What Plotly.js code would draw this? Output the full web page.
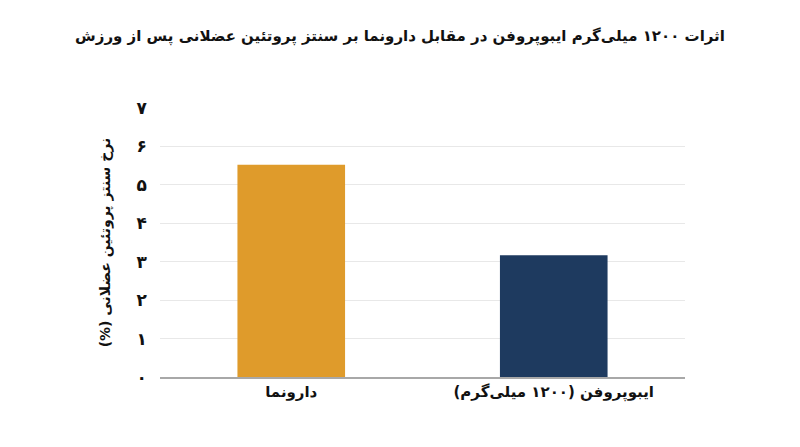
<!DOCTYPE html>
<html>
<head>
<meta charset="utf-8">
<script src="https://cdn.plot.ly/plotly-3.0.1.min.js"></script>
<style>
  html, body { margin: 0; padding: 0; background: #fff; }
  #chart { width: 800px; height: 447px; }
</style>
</head>
<body>
<div id="chart"></div>
<script>
const categories = ['دارونما', 'ایبوپروفن (۱۲۰۰ میلی‌گرم)'];
const synthesisRates = [5.52, 3.17];
const barColors = ['#DF9B2B', '#1E3A5F'];
const tickValues = [0, 1, 2, 3, 4, 5, 6, 7];
const tickLabels = ['۰', '۱', '۲', '۳', '۴', '۵', '۶', '۷'];

const chartTitle = 'اثرات ۱۲۰۰ میلی‌گرم ایبوپروفن در مقابل دارونما بر سنتز پروتئین عضلانی پس از ورزش';
const yTitle = 'نرخ سنتز پروتئین عضلانی (%)';

// keep persian strings right-to-left inside svg text
const RLM = '\u200F';
function rtl(s) {
    return RLM + s + RLM;
}

document.addEventListener('DOMContentLoaded', function() {
    drawChart();
});

function drawChart() {
    const data = [{
        type: 'bar',
        x: categories.map(rtl),
        y: synthesisRates,
        marker: { color: barColors },
        hoverinfo: 'x+y'
    }];

    const layout = {
        width: 800,
        height: 447,
        font: { family: 'DejaVu Sans, sans-serif', color: '#111' },
        title: {
            text: '<b>' + rtl(chartTitle) + '</b>',
            font: { size: 15, color: '#111' },
            x: 0.5,
            xanchor: 'center',
            y: 0.92,
            yanchor: 'middle'
        },
        margin: { l: 160, r: 115, t: 108, b: 70 },
        bargap: 0.59,
        paper_bgcolor: '#fff',
        plot_bgcolor: '#fff',
        showlegend: false,
        xaxis: {
            showgrid: false,
            showline: true,
            linecolor: '#a8a8a8',
            linewidth: 1.5,
            ticks: '',
            tickfont: { size: 15, color: '#111' },
            tickprefix: '<b>',
            ticksuffix: '</b>'
        },
        yaxis: {
            range: [0, 7],
            tickvals: tickValues,
            ticktext: tickLabels.map(t => '<b>' + t + '</b>'),
            tickfont: { size: 17, color: '#111' },
            showgrid: true,
            gridcolor: '#e8e8e8',
            gridwidth: 1,
            zeroline: false,
            showline: false,
            ticks: '',
            ticklabelstandoff: 12,
            title: {
                text: '<b>' + rtl(yTitle) + '</b>',
                font: { size: 14, color: '#111' },
                standoff: 22
            }
        }
    };

    Plotly.newPlot('chart', data, layout, { displayModeBar: false, staticPlot: true });
}
</script>
</body>
</html>
